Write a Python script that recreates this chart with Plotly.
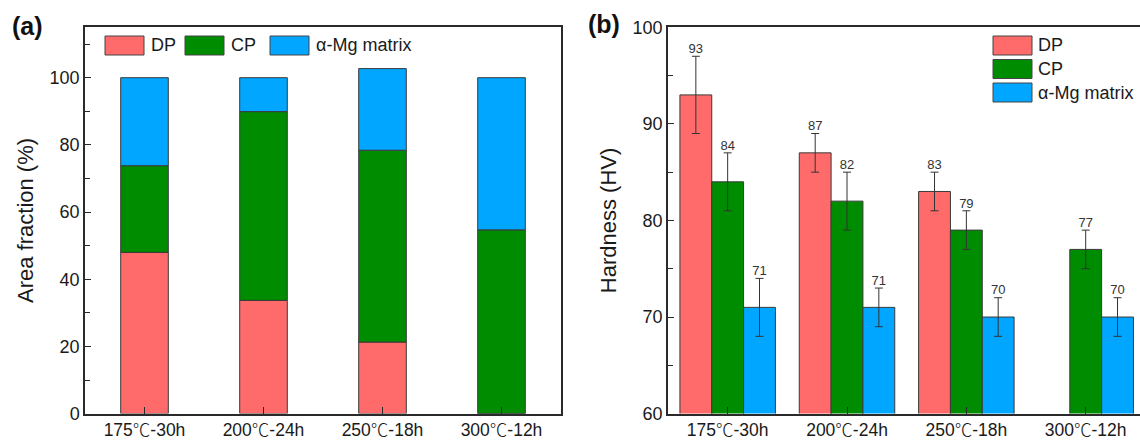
import plotly.graph_objects as go

# ---------------- data ----------------
categories = ["175℃-30h", "200℃-24h", "250℃-18h", "300℃-12h"]
series_names = ["DP", "CP", "α-Mg matrix"]
series_colors = ["#FF6B6B", "#008C00", "#00A6FF"]

# (a) area fraction (%)
area_dp = [48.0, 33.7, 21.3, 0.0]
area_cp = [25.8, 56.2, 57.1, 54.7]
area_mg = [26.2, 10.1, 24.3, 45.3]

# (b) hardness (HV) and error
hard_dp = [93, 87, 83, None]
hard_cp = [84, 82, 79, 77]
hard_mg = [71, 71, 70, 70]
err_dp = [4, 2, 2, None]
err_cp = [3, 3, 2, 2]
err_mg = [3, 2, 2, 2]

# ---------------- style ----------------
W, H = 1140, 442
FONT = "Arial, 'Liberation Sans', 'Noto Sans CJK SC', sans-serif"
CJK = "Noto Sans CJK SC"
AXC = "#2a2a2a"
EDGE = "#3a3a3a"

def px_x(p):
    return p / W

def px_y(p):
    return 1 - p / H

def tick_html(label):
    # render the degree-Celsius sign with a CJK font, as in the original figure
    return label.replace("℃", "<span style='font-family:\"%s\";font-weight:300'>℃</span>" % CJK)

tick_text = [tick_html(c) for c in categories]

xdomL = [px_x(85), px_x(561)]
xdomR = [px_x(668), 1.0]
ydom = [px_y(413.6), px_y(27.3)]

fig = go.Figure()
pos = list(range(len(categories)))

# ---- (a) stacked bars ----
area_series = [area_dp, area_cp, area_mg]
base = [0.0] * len(categories)
for name, col, vals in zip(series_names, series_colors, area_series):
    fig.add_trace(go.Bar(
        x=pos, y=vals, base=list(base), name=name,
        width=0.4, offset=-0.2,
        marker=dict(color=col, line=dict(color=EDGE, width=1)),
        xaxis="x", yaxis="y", showlegend=False,
    ))
    base = [b + v for b, v in zip(base, vals)]

# ---- (b) grouped bars with error bars ----
hard_series = [hard_dp, hard_cp, hard_mg]
err_series = [err_dp, err_cp, err_mg]
for name, col, vals, errs in zip(series_names, series_colors, hard_series, err_series):
    fig.add_trace(go.Bar(
        x=pos, y=vals, name=name,
        marker=dict(color=col, line=dict(color=EDGE, width=1)),
        error_y=dict(type="data", array=[e if e is not None else 0 for e in errs],
                     visible=True, color="#333333", thickness=1, width=4),
        xaxis="x2", yaxis="y2", showlegend=False,
    ))

# value labels above error bars
slot = 0.8 / 3
for k, (vals, errs) in enumerate(zip(hard_series, err_series)):
    xs, ys, ts = [], [], []
    for i, (v, e) in enumerate(zip(vals, errs)):
        if v is None:
            continue
        xs.append(i + (k - 1) * slot)
        ys.append(v + e)
        ts.append(str(v))
    fig.add_trace(go.Scatter(
        x=xs, y=ys, text=ts, mode="text", textposition="top center",
        textfont=dict(size=13, color="#333333", family=FONT),
        xaxis="x2", yaxis="y2", showlegend=False, cliponaxis=False,
        hoverinfo="skip",
    ))

common_x = dict(
    tickvals=pos, ticktext=tick_text, ticks="inside", ticklen=7, tickwidth=1.3,
    tickcolor=AXC, showline=True, linecolor=AXC, linewidth=1.5, mirror=True,
    showgrid=False, zeroline=False, automargin=False,
    tickfont=dict(size=17.5, family=FONT, color="#1a1a1a"),
)
common_y = dict(
    ticks="inside", ticklen=6, tickwidth=1.3, tickcolor=AXC,
    showline=True, linecolor=AXC, linewidth=1.5,
    showgrid=False, zeroline=False, automargin=False,
    tickfont=dict(size=18, family=FONT, color="#1a1a1a"),
    title_font=dict(size=22, family=FONT, color="#1a1a1a"),
)

fig.update_layout(
    width=W, height=H, template="none",
    margin=dict(l=0, r=0, t=0, b=0),
    paper_bgcolor="white", plot_bgcolor="white",
    font=dict(family=FONT),
    barmode="group", bargap=0.2, bargroupgap=0,
    xaxis=dict(domain=xdomL, range=[-0.5, 3.5], anchor="y", **common_x),
    yaxis=dict(domain=ydom, range=[0, 115], anchor="x", tickvals=[0, 20, 40, 60, 80, 100],
               minor=dict(tickvals=[10, 30, 50, 70, 90, 110], ticks="inside", ticklen=5,
                          tickcolor=AXC, tickwidth=1.2),
               mirror=True, title=dict(text="Area fraction (%)", standoff=10), **common_y),
    xaxis2=dict(domain=xdomR, range=[-0.5, 3.455], anchor="y2", **common_x),
    yaxis2=dict(domain=ydom, range=[60, 100], anchor="x2", tickvals=[60, 70, 80, 90, 100],
                minor=dict(tickvals=[65, 75, 85, 95], ticks="inside", ticklen=5,
                           tickcolor=AXC, tickwidth=1.2),
                mirror=False, title=dict(text="Hardness (HV)", standoff=10), **common_y),
)

shapes = []
annots = []

# custom legend (a): horizontal row
legA_x = [105, 185, 270]
for name, col, x0 in zip(series_names, series_colors, legA_x):
    shapes.append(dict(type="rect", xref="paper", yref="paper",
                       x0=px_x(x0), x1=px_x(x0 + 39), y0=px_y(55), y1=px_y(36),
                       fillcolor=col, line=dict(color="#444444", width=1)))
    annots.append(dict(xref="paper", yref="paper", x=px_x(x0 + 44), y=px_y(45.5),
                       text=name, showarrow=False, xanchor="left", yanchor="middle",
                       font=dict(size=18, family=FONT, color="#1a1a1a")))

# custom legend (b): vertical column
legB_y = [36, 59.5, 83]
for name, col, y0 in zip(series_names, series_colors, legB_y):
    shapes.append(dict(type="rect", xref="paper", yref="paper",
                       x0=px_x(993), x1=px_x(1032), y0=px_y(y0 + 19), y1=px_y(y0),
                       fillcolor=col, line=dict(color="#444444", width=1)))
    annots.append(dict(xref="paper", yref="paper", x=px_x(1036), y=px_y(y0 + 9.5),
                       text=name, showarrow=False, xanchor="left", yanchor="middle",
                       font=dict(size=18, family=FONT, color="#1a1a1a")))

# panel labels
annots.append(dict(xref="paper", yref="paper", x=px_x(10), y=px_y(26), text="<b>(a)</b>",
                   showarrow=False, xanchor="left", yanchor="middle",
                   font=dict(size=25, family=FONT, color="#111111")))
annots.append(dict(xref="paper", yref="paper", x=px_x(586), y=px_y(24), text="<b>(b)</b>",
                   showarrow=False, xanchor="left", yanchor="middle",
                   font=dict(size=25, family=FONT, color="#111111")))

fig.update_layout(shapes=shapes, annotations=annots)

fig.write_html("out.html")
